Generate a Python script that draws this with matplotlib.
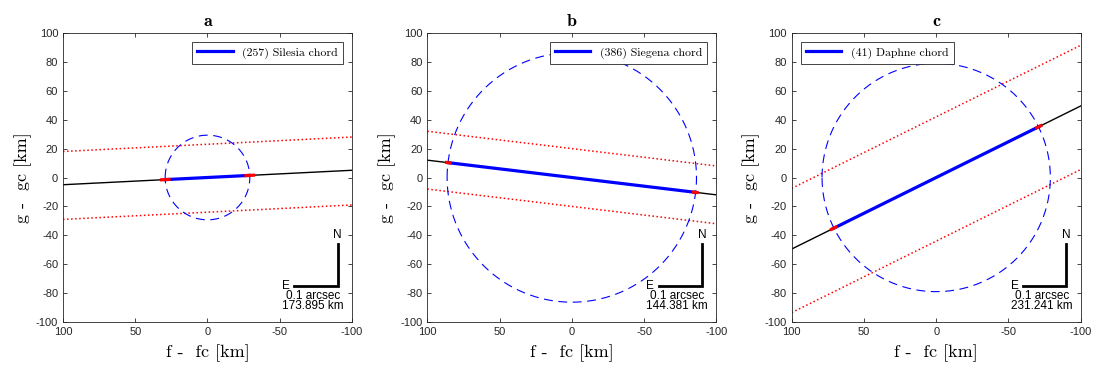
import numpy as np
import matplotlib
matplotlib.use("Agg")
import matplotlib.pyplot as plt

plt.rcParams['font.family'] = ['Liberation Sans', 'DejaVu Sans']
plt.rcParams['axes.unicode_minus'] = False

# panel data
panel_titles = ['a', 'b', 'c']
names = ['(257) Silesia chord', '(386) Siegena chord', '(41) Daphne chord']
scales = ['173.895 km', '144.381 km', '231.241 km']
radius = [29.3, 86.3, 79.0]
slope = [-0.05, 0.12, -0.495]
chord_end = [29.2, 85.5, 71.0]      # |x| of chord ends
end_err = [3.7, 2.3, 2.5]
band_up = [23.0, 20.0, 42.0]
band_lo = [-24.0, -20.0, -44.0]
legend_loc = ['upper right', 'upper right', 'upper left']

fig = plt.figure(figsize=(11.08, 3.83), dpi=100)
lefts = [63 / 1108, 427.3 / 1108, 791.7 / 1108]

xs = np.array([100.0, -100.0])
th = np.linspace(0, 2 * np.pi, 400)

for i in range(3):
    ax = fig.add_axes([lefts[i], 61 / 383, 289 / 1108, 289 / 383])
    m = slope[i]
    # full path line
    ax.plot(xs, m * xs, color='k', lw=1.0, zorder=2)
    # shadow band limits
    ax.plot(xs, band_up[i] + m * xs, color='red', ls=':', lw=1.1, zorder=2)
    ax.plot(xs, band_lo[i] + m * xs, color='red', ls=':', lw=1.1, zorder=2)
    # asteroid profile
    ax.plot(radius[i] * np.cos(th), radius[i] * np.sin(th), color='blue',
            ls=(0, (8, 5)), lw=0.8, zorder=3)
    # chord
    xc = np.array([chord_end[i], -chord_end[i]])
    ax.plot(xc, m * xc, color='blue', lw=2.3, zorder=4, label=names[i])
    # endpoint errors
    for x0 in xc:
        xe = np.array([x0 - end_err[i], x0 + end_err[i]])
        ax.plot(xe, m * xe, color='red', lw=2.3, zorder=5, solid_capstyle='butt')
    # compass
    ax.plot([-60, -90, -90], [-75, -75, -46], color='k', lw=2, zorder=5,
            solid_joinstyle='miter')
    ax.text(-90, -44, 'N', ha='center', va='bottom', fontsize=8.5)
    ax.text(-57, -75, 'E', ha='right', va='center', fontsize=8.5)
    ax.text(-73, -82, '0.1 arcsec', ha='center', va='center', fontsize=8.5)
    ax.text(-73, -89, scales[i], ha='center', va='center', fontsize=8.5)

    ax.set_xlim(100, -100)
    ax.set_ylim(-100, 100)
    ax.set_xticks([100, 50, 0, -50, -100])
    ax.set_yticks(np.arange(-100, 101, 20))
    ax.tick_params(direction='in', top=True, right=True, length=3,
                   labelsize=8, colors='#262626', width=0.6)
    for s in ax.spines.values():
        s.set_color('#262626')
        s.set_linewidth(0.6)
    ax.set_xlabel('f -  fc [km]', family='cmr10', fontsize=13, labelpad=5)
    ax.set_ylabel('g -  gc [km]', family='cmr10', fontsize=13, labelpad=3)
    ax.set_title(panel_titles[i], family='cmb10', fontsize=13, pad=5)
    ax.legend(loc=legend_loc[i], prop={'family': 'cmr10', 'size': 8.5},
              handlelength=3.0, fancybox=False, framealpha=1,
              edgecolor='#262626', borderaxespad=0.75, borderpad=0.45
              ).get_frame().set_linewidth(0.6)

fig.savefig('out.png', dpi=100)
